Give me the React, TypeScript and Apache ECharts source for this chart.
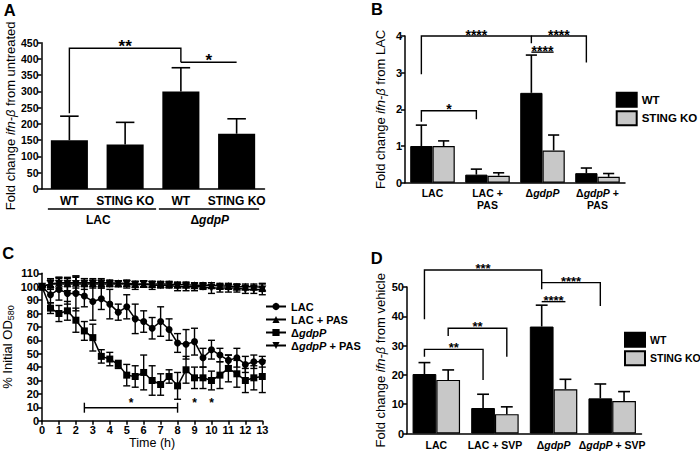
import React, { useEffect, useRef } from 'react';
import * as echarts from 'echarts';

const FONT = '"Liberation Sans", Arial, Helvetica, sans-serif';
const BLACK = '#000000';
const GREY = '#c8c8c8';

// ---------- Panel A ----------
const aCategories = ['WT', 'STING KO', 'WT', 'STING KO'];
const aGroupLabels = ['LAC', 'ΔgdpP'];
const aGroupSpans = [[0, 1], [2, 3]];
const aMeans = [150, 137, 300, 170];
const aErrTops = [224, 205, 373, 216];
// [fromCat, fromSide, toCat, toSide, top, leftLegEnd, rightLegEnd]
const aBrackets = [[0, 0, 2, 0, 433, 233, 390], [2, 0, 3, 0, 390, 390, 390]];
const aBracketLabels = ['**', '*'];

// ---------- Panel B ----------
const bCategories = ['LAC', 'LAC + PAS', 'ΔgdpP', 'ΔgdpP + PAS'];
const bWT = [1.0, 0.22, 2.45, 0.26];
const bWTErrTop = [1.57, 0.37, 3.48, 0.40];
const bKO = [1.0, 0.19, 0.88, 0.16];
const bKOErrTop = [1.14, 0.27, 1.30, 0.25];
const bBrackets = [
  [0, -1, 2, -1, 4.0, 2.96, 3.8],
  [2, -1, 3, -1, 4.0, 4.0, 3.28],
  [2, -1, 2, 1, 3.56, 3.56, 3.56],
  [0, -1, 1, -1, 1.96, 1.66, 1.73],
];
const bBracketLabels = ['****', '****', '****', '*'];

// ---------- Panel C ----------
const cTime = [0, 0.5, 1, 1.5, 2, 2.5, 3, 3.5, 4, 4.5, 5, 5.5, 6, 6.5, 7, 7.5, 8, 8.5, 9, 9.5, 10, 10.5, 11, 11.5, 12, 12.5, 13];
const cLAC = [100, 94, 98, 95, 95, 93, 89, 91, 87, 81, 85, 76, 74, 69, 74, 68, 58, 57, 59, 47, 53, 49, 45, 47, 42, 44, 44];
const cLACErr = [0, 6, 8, 8, 13, 8, 14, 8, 11, 6, 9, 11, 8, 8, 11, 8, 7, 11, 10, 7, 7, 5, 4, 7, 6, 5, 4];
const cLACPAS = [100, 102, 103, 103, 103, 103, 103, 103, 103, 102.5, 102.5, 102, 102, 102, 102, 102, 101.5, 101.5, 101, 101, 101, 100.5, 100.5, 100, 100, 100, 99.5];
const cLACPASErr = [0, 3, 4, 3, 4, 3, 3, 3, 2, 2, 2, 2, 2, 2, 2, 2, 2, 2, 2, 2, 2, 2, 2, 2, 2, 2, 3];
const cGdp = [100, 84, 80, 82, 75, 67, 62, 48, 46, 42, 34, 33, 36, 30, 27, 33, 26, 38, 32, 32, 30, 34, 39, 35, 30, 32, 33];
const cGdpErr = [0, 4, 6, 7, 9, 7, 10, 5, 5, 3, 8, 8, 13, 11, 8, 5, 10, 10, 8, 8, 7, 10, 10, 10, 9, 9, 12];
const cGdpPAS = [100, 102, 102, 102, 102, 102, 102, 102, 102, 102, 102, 101, 102, 101, 101, 101, 100, 100, 100, 100, 99, 99, 99, 99, 98, 98, 98];
const cGdpPASErr = [0, 4, 5, 5, 6, 4, 3, 3, 2, 2, 3, 3, 2, 3, 2, 2, 3, 3, 3, 2, 4, 3, 3, 3, 3, 3, 4];
const cNames = ['LAC', 'LAC + PAS', 'ΔgdpP', 'ΔgdpP + PAS'];
const cBracket = [2.5, 8, 9.7];
const cStarX = [5.25, 9, 10];
const cStarY = [13, 13, 13];

// ---------- Panel D ----------
const dCategories = ['LAC', 'LAC + SVP', 'ΔgdpP', 'ΔgdpP + SVP'];
const dWT = [20.3, 8.7, 36.5, 12.0];
const dWTErrTop = [24.2, 13.4, 43.8, 16.9];
const dKO = [18.3, 6.6, 15.1, 11.1];
const dKOErrTop = [21.7, 9.1, 18.5, 14.3];
const dBrackets = [
  [0, -1, 2, -1, 55.8, 39, 51.5],
  [0, 1, 1, 1, 35.9, 33.3, 26.2],
  [0, -1, 1, -1, 28.7, 26.2, 18.3],
  [2, -1, 3, -1, 51.5, 49.2, 43.5],
  [2, -1, 2, 1, 45, 45, 45],
];
const dBracketLabels = ['***', '**', '**', '****', '****'];

// ---------- helpers ----------
const italicRich = (size: number, bold: boolean) => ({
  i: { fontStyle: 'italic', fontFamily: FONT, fontSize: size, fontWeight: bold ? 'bold' : 'normal', color: BLACK },
});
const fmtGdp = (s: string) => s.replace('ΔgdpP', 'Δ{i|gdpP}');

function barErrorSeries(axis: number, means: number[], tops: number[], side: number, nBars: number, gap: number) {
  return {
    type: 'custom', xAxisIndex: axis, yAxisIndex: axis, silent: true, clip: false, z: 5,
    data: means.map((m, i) => [i, m, tops[i]]),
    renderItem: (params: any, api: any) => {
      const cat = api.value(0);
      const base = api.coord([cat, api.value(1)]);
      const top = api.coord([cat, api.value(2)]);
      const band = api.size([1, 0])[0];
      const bw = (band * (1 - gap)) / nBars;
      const cx = base[0] + (side * bw) / 2;
      const cap = bw / 4;
      const st = { stroke: BLACK, lineWidth: 1.6 };
      return {
        type: 'group',
        children: [
          { type: 'line', shape: { x1: cx, y1: base[1], x2: cx, y2: top[1] }, style: st },
          { type: 'line', shape: { x1: cx - cap, y1: top[1], x2: cx + cap, y2: top[1] }, style: st },
        ],
      };
    },
  };
}

function bracketSeries(axis: number, brackets: number[][], labels: string[], nBars: number, gap: number, fs: number) {
  return {
    type: 'custom', xAxisIndex: axis, yAxisIndex: axis, silent: true, clip: false, z: 6,
    data: brackets,
    renderItem: (params: any, api: any) => {
      const band = api.size([1, 0])[0];
      const bw = nBars > 1 ? (band * (1 - gap)) / nBars : 0;
      const xOf = (cat: number, side: number) => api.coord([cat, 0])[0] + (side * bw) / 2;
      const x1 = xOf(api.value(0), api.value(1));
      const x2 = xOf(api.value(2), api.value(3));
      const yT = api.coord([0, api.value(4)])[1];
      const yL = api.coord([0, api.value(5)])[1];
      const yR = api.coord([0, api.value(6)])[1];
      const st = { stroke: BLACK, lineWidth: 1.4, fill: null };
      return {
        type: 'group',
        children: [
          { type: 'polyline', shape: { points: [[x1, yL], [x1, yT], [x2, yT], [x2, yR]] }, style: st },
          {
            type: 'text', x: (x1 + x2) / 2, y: yT - 1.5,
            style: { text: labels[params.dataIndex], fontFamily: FONT, fontSize: fs, fontWeight: 'bold', fill: BLACK, align: 'center', verticalAlign: 'middle' },
          },
        ],
      };
    },
  };
}

function catXAxis(gridIndex: number, data: string[], fontSize: number, margin: number, twoLine: boolean) {
  return {
    type: 'category', gridIndex, data,
    axisLine: { show: true, lineStyle: { color: BLACK, width: 1.5 } },
    axisTick: { show: false },
    axisLabel: {
      interval: 0, margin, fontFamily: FONT, fontSize, fontWeight: 'bold', color: BLACK, lineHeight: fontSize + 1.5,
      formatter: (v: string) => {
        let s = fmtGdp(v);
        if (twoLine) s = s.replace(' + ', ' +\n');
        return s;
      },
      rich: italicRich(fontSize, true),
    },
    splitLine: { show: false },
  };
}

function yAxisCfg(gridIndex: number, min: number, max: number, interval: number, name: string, nameGap: number, labelSize: number) {
  return {
    type: 'value', gridIndex, min, max, interval,
    name, nameLocation: 'middle', nameRotate: 90, nameGap,
    nameTextStyle: {
      fontFamily: FONT, fontSize: 13, color: BLACK,
      rich: {
        i: { fontStyle: 'italic', fontFamily: FONT, fontSize: 13, color: BLACK },
        sub: { fontFamily: FONT, fontSize: 9, color: BLACK, verticalAlign: 'bottom', padding: [6, 0, 0, 0] },
      },
    },
    axisLine: { show: true, lineStyle: { color: BLACK, width: 1.5 } },
    axisTick: { show: true, length: 4, lineStyle: { color: BLACK, width: 1.5 } },
    axisLabel: { fontFamily: FONT, fontSize: labelSize, fontWeight: 'bold', color: BLACK, margin: 3 },
    splitLine: { show: false },
  };
}

function buildOption() {
  const gapAB = 0.19;
  const cSeriesDefs = [
    { name: cNames[0], values: cLAC, errs: cLACErr, symbol: 'circle', size: 7 },
    { name: cNames[1], values: cLACPAS, errs: cLACPASErr, symbol: 'triangle', size: 8 },
    { name: cNames[2], values: cGdp, errs: cGdpErr, symbol: 'rect', size: 7 },
    { name: cNames[3], values: cGdpPAS, errs: cGdpPASErr, symbol: 'path://M0,0L2,0L1,1.8Z', size: 8 },
  ];

  const series: any[] = [];
  // Panel A
  series.push({ type: 'bar', xAxisIndex: 0, yAxisIndex: 0, data: aMeans, barCategoryGap: '33.5%', itemStyle: { color: BLACK }, silent: true });
  series.push(barErrorSeries(0, aMeans, aErrTops, 0, 1, 0.335));
  series.push(bracketSeries(0, aBrackets, aBracketLabels, 1, 0.335, 17));
  series.push({
    type: 'custom', xAxisIndex: 0, yAxisIndex: 0, silent: true, clip: false,
    data: aGroupSpans,
    renderItem: (params: any, api: any) => {
      const pads = [[21.5, 31], [22, 22.5]][params.dataIndex];
      const c0 = api.coord([api.value(0), 0]);
      const c1 = api.coord([api.value(1), 0]);
      const y0 = c0[1];
      return {
        type: 'group',
        children: [
          { type: 'line', shape: { x1: c0[0] - pads[0], y1: y0 + 20, x2: c1[0] + pads[1], y2: y0 + 20 }, style: { stroke: BLACK, lineWidth: 1.5 } },
          {
            type: 'text', x: (c0[0] + c1[0]) / 2 + 1, y: y0 + 31,
            style: { text: fmtGdp(aGroupLabels[params.dataIndex]), rich: italicRich(12, true), fontFamily: FONT, fontSize: 12, fontWeight: 'bold', fill: BLACK, align: 'center', verticalAlign: 'middle' },
          },
        ],
      };
    },
  });

  // Panel B
  series.push({ name: 'WT', type: 'bar', xAxisIndex: 1, yAxisIndex: 1, data: bWT, barGap: '0%', barCategoryGap: '19%', itemStyle: { color: BLACK, borderColor: BLACK, borderWidth: 1 }, silent: true });
  series.push({ name: 'STING KO', type: 'bar', xAxisIndex: 1, yAxisIndex: 1, data: bKO, barGap: '0%', barCategoryGap: '19%', itemStyle: { color: GREY, borderColor: BLACK, borderWidth: 1.2 }, silent: true });
  series.push(barErrorSeries(1, bWT, bWTErrTop, -1, 2, gapAB));
  series.push(barErrorSeries(1, bKO, bKOErrTop, 1, 2, gapAB));
  series.push(bracketSeries(1, bBrackets, bBracketLabels, 2, gapAB, 14));

  // Panel C
  cSeriesDefs.forEach((d) => {
    series.push({
      name: d.name, type: 'line', xAxisIndex: 2, yAxisIndex: 2,
      data: cTime.map((t, i) => [t, d.values[i]]),
      symbol: d.symbol, symbolSize: d.size, showSymbol: true,
      itemStyle: { color: BLACK },
      lineStyle: { color: BLACK, width: 1.5 },
      z: 4, silent: true,
    });
    series.push({
      type: 'custom', xAxisIndex: 2, yAxisIndex: 2, silent: true, clip: false, z: 3,
      data: cTime.map((t, i) => [t, d.values[i] - d.errs[i], d.values[i] + d.errs[i]]),
      renderItem: (params: any, api: any) => {
        const lo = api.coord([api.value(0), api.value(1)]);
        const hi = api.coord([api.value(0), api.value(2)]);
        const st = { stroke: BLACK, lineWidth: 1.4 };
        const cap = 3.5;
        return {
          type: 'group',
          children: [
            { type: 'line', shape: { x1: lo[0], y1: lo[1], x2: hi[0], y2: hi[1] }, style: st },
            { type: 'line', shape: { x1: lo[0] - cap, y1: lo[1], x2: lo[0] + cap, y2: lo[1] }, style: st },
            { type: 'line', shape: { x1: hi[0] - cap, y1: hi[1], x2: hi[0] + cap, y2: hi[1] }, style: st },
          ],
        };
      },
    });
  });
  series.push({
    type: 'custom', xAxisIndex: 2, yAxisIndex: 2, silent: true, clip: false, z: 6,
    data: [cBracket],
    renderItem: (params: any, api: any) => {
      const p1 = api.coord([api.value(0), api.value(2)]);
      const p2 = api.coord([api.value(1), api.value(2)]);
      const st = { stroke: BLACK, lineWidth: 1.4 };
      return {
        type: 'group',
        children: [
          { type: 'line', shape: { x1: p1[0], y1: p1[1], x2: p2[0], y2: p2[1] }, style: st },
          { type: 'line', shape: { x1: p1[0], y1: p1[1] - 5, x2: p1[0], y2: p1[1] + 5 }, style: st },
          { type: 'line', shape: { x1: p2[0], y1: p2[1] - 5, x2: p2[0], y2: p2[1] + 5 }, style: st },
        ],
      };
    },
  });
  series.push({
    type: 'custom', xAxisIndex: 2, yAxisIndex: 2, silent: true, clip: false, z: 6,
    data: cStarX.map((x, i) => [x, cStarY[i]]),
    renderItem: (params: any, api: any) => {
      const p = api.coord([api.value(0), api.value(1)]);
      return { type: 'text', x: p[0], y: p[1], style: { text: '*', fontFamily: FONT, fontSize: 12, fontWeight: 'bold', fill: BLACK, align: 'center', verticalAlign: 'middle' } };
    },
  });

  // Panel D
  series.push({ name: 'WT', type: 'bar', xAxisIndex: 3, yAxisIndex: 3, data: dWT, barGap: '0%', barCategoryGap: '19%', itemStyle: { color: BLACK, borderColor: BLACK, borderWidth: 1 }, silent: true });
  series.push({ name: 'STING KO', type: 'bar', xAxisIndex: 3, yAxisIndex: 3, data: dKO, barGap: '0%', barCategoryGap: '19%', itemStyle: { color: GREY, borderColor: BLACK, borderWidth: 1.2 }, silent: true });
  series.push(barErrorSeries(3, dWT, dWTErrTop, -1, 2, gapAB));
  series.push(barErrorSeries(3, dKO, dKOErrTop, 1, 2, gapAB));
  series.push(bracketSeries(3, dBrackets, dBracketLabels, 2, gapAB, 13));

  const panelLetter = (t: string, x: number, y: number) => ({
    type: 'text', x, y,
    style: { text: t, fontFamily: FONT, fontSize: 16.5, fontWeight: 'bold', fill: BLACK, align: 'center', verticalAlign: 'middle' },
  });

  const legendText = (size: number) => ({ fontFamily: FONT, fontSize: size, fontWeight: 'bold', color: BLACK, rich: italicRich(size, true) });

  return {
    animation: false,
    backgroundColor: '#ffffff',
    textStyle: { fontFamily: FONT },
    grid: [
      { left: 41.5, top: 42.7, width: 223, height: 146.3 },
      { left: 405, top: 36, width: 220, height: 146.7 },
      { left: 40.5, top: 273.3, width: 221.8, height: 147.4 },
      { left: 407, top: 287, width: 234.5, height: 146.5 },
    ],
    xAxis: [
      catXAxis(0, aCategories, 12, 5, false),
      catXAxis(1, bCategories, 10.5, 4, true),
      {
        type: 'value', gridIndex: 2, min: 0, max: 13, interval: 1,
        name: 'Time (h)', nameLocation: 'middle', nameGap: 16,
        nameTextStyle: { fontFamily: FONT, fontSize: 12.5, color: BLACK },
        axisLine: { show: true, lineStyle: { color: BLACK, width: 1.5 } },
        axisTick: { show: true, length: 4, lineStyle: { color: BLACK, width: 1.5 } },
        axisLabel: { fontFamily: FONT, fontSize: 11, fontWeight: 'bold', color: BLACK, margin: 4 },
        splitLine: { show: false },
      },
      catXAxis(3, dCategories, 10.5, 5, false),
    ],
    yAxis: [
      yAxisCfg(0, 0, 450, 50, 'Fold change {i|ifn-β} from untreated', 24, 10.5),
      yAxisCfg(1, 0, 4, 1, 'Fold change {i|ifn-β} from LAC', 18, 11),
      yAxisCfg(2, 0, 110, 10, '% Initial OD{sub|580}', 27, 11),
      yAxisCfg(3, 0, 50, 10, 'Fold change {i|ifn-β} from vehicle', 20, 11),
    ],
    legend: [
      {
        data: ['WT', 'STING KO'], orient: 'vertical', left: 610.7, top: 86.7, itemWidth: 20, itemHeight: 14, itemGap: 2.6,
        icon: 'rect', selectedMode: false, textStyle: legendText(11.5),
      },
      {
        data: ['WT', 'STING KO'], orient: 'vertical', left: 619, top: 326.7, itemWidth: 20, itemHeight: 14, itemGap: 2.6,
        icon: 'rect', selectedMode: false, textStyle: legendText(10.5),
      },
      {
        data: cNames, orient: 'vertical', left: 260, top: 296, itemWidth: 20, itemHeight: 9, itemGap: 2,
        selectedMode: false, formatter: (n: string) => fmtGdp(n), textStyle: legendText(11),
      },
    ],
    graphic: [
      panelLetter('A', 9.7, 10),
      panelLetter('B', 377, 9),
      panelLetter('C', 8.3, 252.5),
      panelLetter('D', 376.7, 257.5),
    ],
    series,
  };
}

export default function App() {
  const ref = useRef<HTMLDivElement>(null);
  useEffect(() => {
    if (!ref.current) return;
    const chart = echarts.init(ref.current, undefined, { renderer: 'svg' });
    chart.setOption(buildOption() as any);
    return () => chart.dispose();
  }, []);
  return <div ref={ref} style={{ position: 'fixed', left: 0, top: 0, width: 700, height: 457, background: '#fff' }} />;
}
